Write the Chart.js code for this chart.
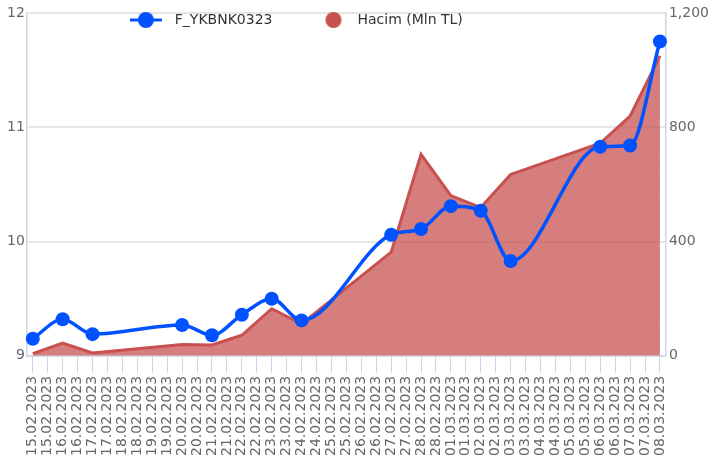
<!DOCTYPE html>
<html>
<head>
<meta charset="utf-8">
<script src="https://cdn.jsdelivr.net/npm/chart.js@4.4.1/dist/chart.umd.min.js"></script>
<style>
  html, body { margin: 0; padding: 0; background: #fff; }
  #wrap { width: 715px; height: 468px; }
</style>
</head>
<body>
<div id="wrap"><canvas id="chart"></canvas></div>
<script>
// calendar days on the x axis (each day gets two ticks, as in the original)
const days = [
  '15.02.2023', '16.02.2023', '17.02.2023', '18.02.2023', '19.02.2023', '20.02.2023', '21.02.2023',
  '22.02.2023', '23.02.2023', '24.02.2023', '25.02.2023', '26.02.2023', '27.02.2023', '28.02.2023',
  '01.03.2023', '02.03.2023', '03.03.2023', '04.03.2023', '05.03.2023', '06.03.2023', '07.03.2023',
  '08.03.2023'
];

// trading days with data
const tradeDays = [
  '15.02.2023', '16.02.2023', '17.02.2023', '20.02.2023', '21.02.2023', '22.02.2023', '23.02.2023',
  '24.02.2023', '27.02.2023', '28.02.2023', '01.03.2023', '02.03.2023', '03.03.2023', '06.03.2023',
  '07.03.2023', '08.03.2023'
];

// F_YKBNK0323 price (left axis)
const prices = [9.15, 9.32, 9.19, 9.27, 9.18, 9.36, 9.50, 9.31, 10.06, 10.11, 10.31, 10.27, 9.83, 10.83, 10.84, 11.75];

// volume in Mln TL (right axis)
const volumes = [8, 45, 10, 40, 38, 72, 165, 112, 363, 705, 561, 519, 635, 744, 839, 1050];

const tickLabels = [];
days.forEach((d, i) => {
  tickLabels.push(d);
  if (i < days.length - 1) tickLabels.push(d);
});

const dayPos = d => 2 * days.indexOf(d);

const blue = '#0052ff';
const red = '#c8504f';

// little pictures for the legend: line + dot for the price, dot for volume
function legendIcon(color, withLine) {
  const c = document.createElement('canvas');
  c.width = 76;
  c.height = 18;
  const g = c.getContext('2d');
  g.fillStyle = color;
  g.strokeStyle = color;
  if (withLine) {
    g.lineWidth = 3;
    g.beginPath();
    g.moveTo(38, 9);
    g.lineTo(70, 9);
    g.stroke();
  }
  g.beginPath();
  g.arc(withLine ? 54 : 59, 9, 8, 0, Math.PI * 2);
  g.fill();
  return c;
}
const legendIcons = [legendIcon(blue, true), legendIcon(red, false)];

// move the legend inside the plot, like the original
const legendInside = {
  id: 'legendInside',
  afterLayout(chart) {
    const lg = chart.legend;
    if (!lg) return;
    const h = lg.height, w = lg.width;
    lg.top = chart.chartArea.top - 2;
    lg.bottom = lg.top + h;
    lg.left = chart.chartArea.left + 63;
    lg.right = lg.left + w;
  }
};

Chart.defaults.font.family = "'DejaVu Sans', sans-serif";
Chart.defaults.color = '#666666';

new Chart(document.getElementById('chart'), {
  type: 'line',
  data: {
    datasets: [
      {
        label: 'F_YKBNK0323',
        data: tradeDays.map((d, i) => ({ x: dayPos(d), y: prices[i] })),
        yAxisID: 'y',
        borderColor: blue,
        backgroundColor: blue,
        borderWidth: 3.5,
        pointRadius: 7,
        pointBorderWidth: 0,
        pointBackgroundColor: blue,
        cubicInterpolationMode: 'monotone',
        fill: false,
        clip: false
      },
      {
        label: 'Hacim (Mln TL)',
        data: tradeDays.map((d, i) => ({ x: dayPos(d), y: volumes[i] })),
        yAxisID: 'y1',
        borderColor: red,
        backgroundColor: 'rgba(200, 80, 79, 0.74)',
        borderWidth: 3,
        pointRadius: 0,
        tension: 0,
        fill: 'origin'
      }
    ]
  },
  options: {
    responsive: true,
    maintainAspectRatio: false,
    animation: false,
    layout: { padding: { left: 5, right: 3, top: -13, bottom: 9 } },
    plugins: {
      legend: {
        position: 'top',
        align: 'start',
        labels: {
          usePointStyle: true,
          pointStyleWidth: 76,
          padding: 2,
          color: '#333333',
          font: { size: 14 },
          generateLabels(chart) {
            const items = Chart.defaults.plugins.legend.labels.generateLabels(chart);
            items.forEach((it, i) => { it.pointStyle = legendIcons[i]; });
            return items;
          }
        }
      },
      tooltip: { enabled: false }
    },
    scales: {
      x: {
        type: 'linear',
        min: -0.4,
        max: tickLabels.length - 1 + 0.4,
        afterBuildTicks(scale) {
          scale.ticks = tickLabels.map((_, i) => ({ value: i }));
        },
        ticks: {
          autoSkip: false,
          minRotation: 90,
          maxRotation: 90,
          padding: 3,
          font: { size: 14 },
          callback: (v) => tickLabels[v]
        },
        grid: {
          drawOnChartArea: false,
          drawTicks: true,
          tickLength: 17,
          color: '#ccd6eb'
        },
        border: { color: '#ccd6eb', width: 1.5 }
      },
      y: {
        position: 'left',
        min: 9,
        max: 12,
        ticks: { stepSize: 1, padding: 2, font: { size: 14 } },
        grid: { color: '#e6e6e6', lineWidth: 2, drawTicks: false },
        border: { color: '#ccd6eb', width: 1.5 }
      },
      y1: {
        position: 'right',
        min: 0,
        max: 1200,
        ticks: { stepSize: 400, padding: 3, font: { size: 14 } },
        grid: { drawOnChartArea: false, drawTicks: false },
        border: { color: '#ccd6eb', width: 1.5 }
      }
    }
  },
  plugins: [legendInside]
});
</script>
</body>
</html>
